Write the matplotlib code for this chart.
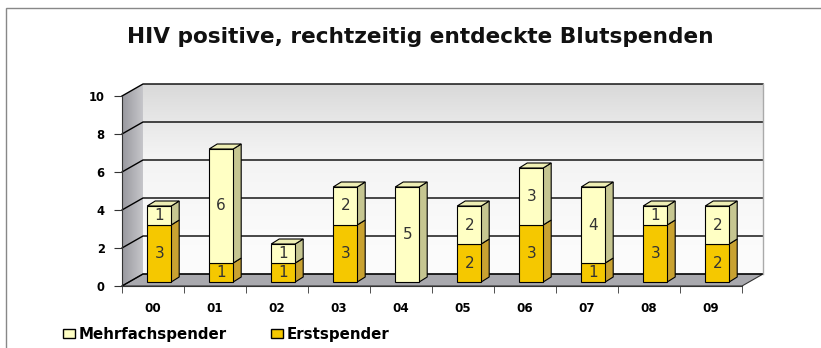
import numpy as np
import matplotlib.pyplot as plt
from matplotlib.patches import Polygon, Rectangle, Patch
from matplotlib.colors import LinearSegmentedColormap

# Daten
jahre = ['00', '01', '02', '03', '04', '05', '06', '07', '08', '09']
erstspender = [3, 1, 1, 3, 0, 2, 3, 1, 3, 2]
mehrfachspender = [1, 6, 1, 2, 5, 2, 3, 4, 1, 2]
y_ticks = [0, 2, 4, 6, 8, 10]

W, H = 821, 348
fig = plt.figure(figsize=(W / 100, H / 100), dpi=100)
plt.rcParams['font.family'] = 'DejaVu Sans'

# Vorderebene der Achsen (Pixel -> Bruchteile)
ax = fig.add_axes([122 / W, (H - 286) / H, 620 / W, 190 / H])
ax.patch.set_visible(False)

# Tiefe der Wände in Dateneinheiten
dx_w = 21 / 62
dy_w = 12 / 19

# Rückwand mit Verlauf
wand_cmap = LinearSegmentedColormap.from_list('wand', ['#fcfcfc', '#f3f3f3', '#d9d9d9'])
verlauf = np.linspace(1, 0, 200)[:, None] ** 1.5
ax.imshow(verlauf, extent=(-0.5 + dx_w, 9.5 + dx_w, dy_w, 10 + dy_w), aspect='auto',
          cmap=wand_cmap, vmin=0, vmax=1, zorder=0, clip_on=False)

# Seitenwand links
seite = Polygon([(-0.5, 0), (-0.5 + dx_w, dy_w), (-0.5 + dx_w, 10 + dy_w), (-0.5, 10)],
                closed=True, fc='none', ec='none', transform=ax.transData)
ax.add_patch(seite)
seiten_cmap = LinearSegmentedColormap.from_list('seite', ['#98989e', '#c6c6ca'])
im = ax.imshow(np.linspace(0, 1, 100)[None, :], extent=(-0.5, -0.5 + dx_w, 0, 10 + dy_w),
               aspect='auto', cmap=seiten_cmap, zorder=0.5)
im.set_clip_path(seite)
im.set_clip_box(fig.bbox)

# Boden
ax.add_patch(Polygon([(-0.5, 0), (9.5, 0), (9.5 + dx_w, dy_w), (-0.5 + dx_w, dy_w)],
                     closed=True, fc='#a9a9ae', ec='#333333', lw=0.8, zorder=1, clip_on=False))

# Gitterlinien auf Seiten- und Rückwand
for v in y_ticks:
    ax.plot([-0.5, -0.5 + dx_w, 9.5 + dx_w], [v, v + dy_w, v + dy_w],
            color='black', lw=1.0, zorder=1.5, clip_on=False)
ax.plot([9.5 + dx_w, 9.5 + dx_w], [dy_w, 10 + dy_w], color='#aaaaaa', lw=1.0, zorder=1.5, clip_on=False)

# Säulen (Quader)
ox, oy = 0.1, 4 / 19
bw = 24 / 62
bdx, bdy = 8 / 62, 5 / 19

farben = {
    'erst': ('#f5c800', '#c9a231', '#e8bb10'),
    'mehr': ('#ffffc4', '#c6c691', '#eeeeb4'),
}


def quader(x, y0, y1, farbe, oben):
    front, side, top = farbe
    l = x + ox - bw / 2
    r = l + bw
    b = y0 + oy
    t = y1 + oy
    ax.add_patch(Polygon([(r, b), (r + bdx, b + bdy), (r + bdx, t + bdy), (r, t)],
                         closed=True, fc=side, ec='black', lw=0.8, zorder=3, clip_on=False))
    ax.add_patch(Rectangle((l, b), bw, y1 - y0, fc=front, ec='black', lw=0.8, zorder=4, clip_on=False))
    if oben:
        ax.add_patch(Polygon([(l, t), (l + bdx, t + bdy), (r + bdx, t + bdy), (r, t)],
                             closed=True, fc=top, ec='black', lw=0.8, zorder=4, clip_on=False))


for i, (e, m) in enumerate(zip(erstspender, mehrfachspender)):
    if e > 0:
        quader(i, 0, e, farben['erst'], m == 0)
        ax.text(i + ox, oy + e / 2, str(e), ha='center', va='center', fontsize=11,
                color='#333333', zorder=5)
    if m > 0:
        quader(i, e, e + m, farben['mehr'], True)
        ax.text(i + ox, oy + e + m / 2, str(m), ha='center', va='center', fontsize=11,
                color='#333333', zorder=5)

ax.set_xlim(-0.5, 9.5)
ax.set_ylim(0, 10)

# Achsen
for s in ['top', 'right']:
    ax.spines[s].set_visible(False)
ax.spines['left'].set_color('#333333')
ax.spines['bottom'].set_color('#333333')
ax.spines['left'].set_zorder(2)
ax.spines['bottom'].set_zorder(2)

ax.set_yticks(y_ticks)
ax.set_yticklabels([str(v) for v in y_ticks], fontsize=8.3, fontweight='bold')
ax.tick_params(axis='y', direction='out', length=6, pad=6.5, color='#333333')
ax.set_xticks(range(len(jahre)))
ax.set_xticklabels(jahre, fontsize=8.6, fontweight='bold')
ax.set_xticks(np.arange(-0.5, len(jahre), 1), minor=True)
ax.tick_params(axis='x', which='major', length=0, pad=11.5)
ax.tick_params(axis='x', which='minor', direction='out', length=5, color='#333333')

# Titel
fig.text(420 / W, 1 - 43 / H, 'HIV positive, rechtzeitig entdeckte Blutspenden',
         ha='center', va='baseline', fontsize=15.6, fontweight='bold', color='#111111')

# Legende
handles = [Patch(fc=farben['mehr'][0], ec='black', label='Mehrfachspender'),
           Patch(fc=farben['erst'][0], ec='black', label='Erstspender')]
fig.legend(handles=handles, loc='center left', bbox_to_anchor=(55 / W, 1 - 334 / H), ncol=2,
           frameon=False, handlelength=0.8, handleheight=0.55, handletextpad=0.3,
           columnspacing=2.9, borderpad=0, prop=dict(weight='bold', size=10.8))

# Rahmen
fig.add_artist(Rectangle((6 / W, -0.1), 1.2, (H - 8) / H + 0.1, transform=fig.transFigure,
                         fill=False, ec='#888888', lw=1))

fig.savefig('out.png', dpi=100)
